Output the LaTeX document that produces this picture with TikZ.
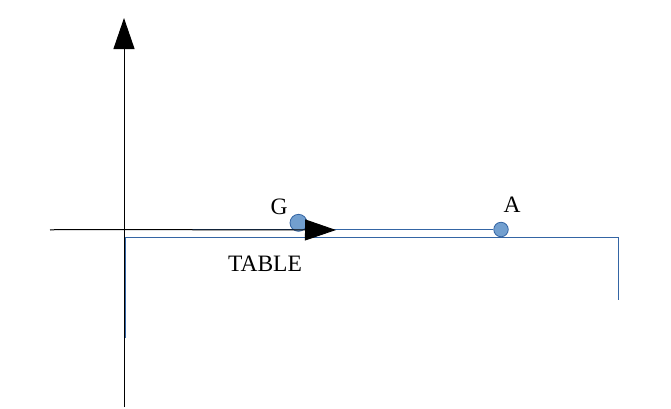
\documentclass[tikz,border=0pt]{standalone}
\usepackage{fontspec}
\setmainfont{Liberation Serif}
\usetikzlibrary{arrows.meta}
\definecolor{lineblue}{HTML}{3465A4}
\definecolor{fillblue}{HTML}{729FCF}
\tikzset{
  axis/.style={black, line width=1pt, -{Triangle[length=31pt,width=21pt]}},
  bluel/.style={lineblue, line width=1pt},
  mass/.style={circle, draw=lineblue, fill=fillblue, line width=0.8pt, inner sep=0pt},
  lbl/.style={font=\fontsize{23.5}{27}\selectfont, inner sep=0pt}
}
\begin{document}
\begin{tikzpicture}[x=1pt,y=-1pt]
\useasboundingbox (0,0) rectangle (671,408);
% coordinates
\coordinate (yb) at (124,407);
\coordinate (yt) at (124,18);
\coordinate (xl) at (50,230);
\coordinate (xr) at (336,230);
\coordinate (sl) at (58,229.5);
\coordinate (t1) at (125,338);
\coordinate (t2) at (125,237);
\coordinate (t3) at (618,237);
\coordinate (t4) at (618,300);
% table
\draw[bluel] (t1) -- (t2) -- (t3) -- (t4);
% axes
\draw[axis] (yb) -- (yt);
\draw[black, line width=1pt] (xl) -- (sl);
% string
\node[mass, minimum size=14.5pt] (A) at (501,229.5) {};
\draw[bluel] (sl) -- (A.west);
% masses
\node[mass, minimum size=17pt] (G) at (298.5,222.8) {};
\draw[axis] (sl) -- (xr);
% labels
\node[lbl] (Gl) at (279,207) {G};
\node[lbl] (Al) at (512,205) {A};
\node[lbl] (Tl) at (265,264) {TABLE};
\end{tikzpicture}
\end{document}
